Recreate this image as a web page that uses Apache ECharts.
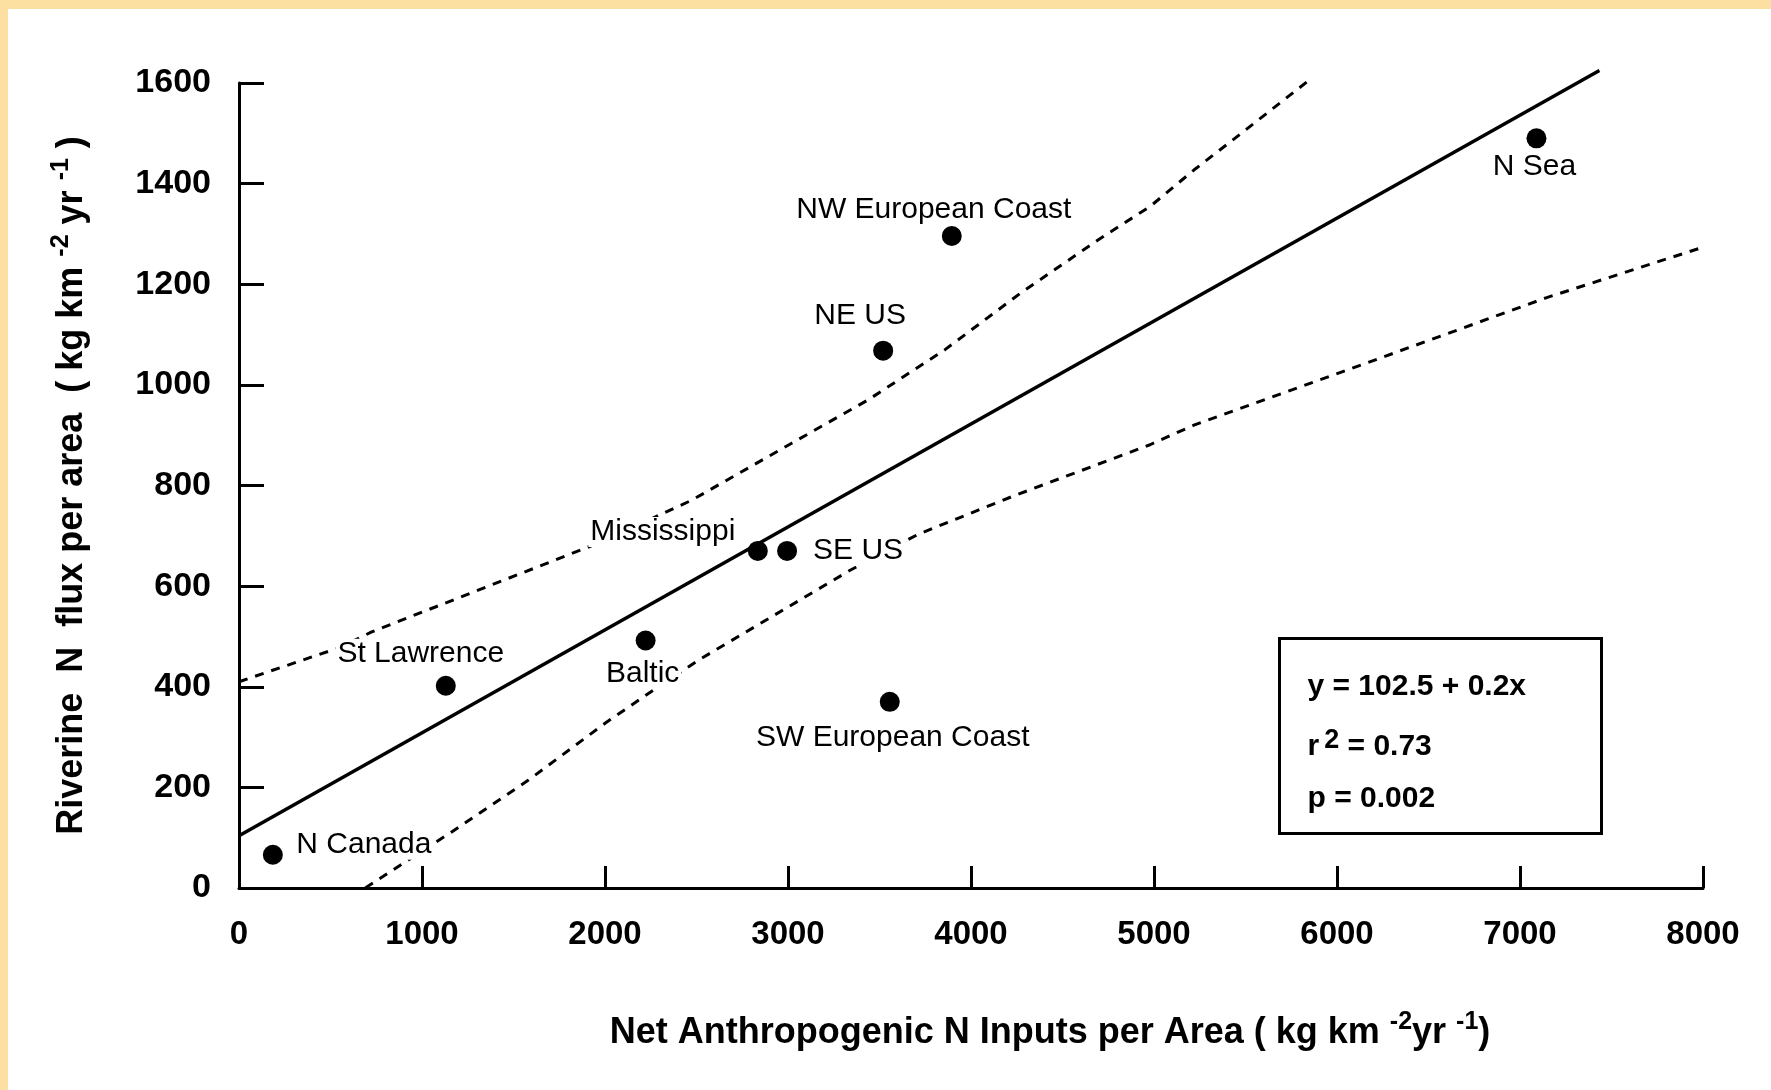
<!DOCTYPE html>
<html>
<head>
<meta charset="utf-8">
<script src="https://cdn.jsdelivr.net/npm/echarts@6/dist/echarts.min.js"></script>
<style>
  html, body { margin: 0; padding: 0; background: #ffffff; }
  #chart { position: absolute; left: 0; top: 0; width: 1771px; height: 1090px; }
  .frameTop { position: absolute; left: 0; top: 0; width: 1771px; height: 9px; background: #fbe0a2; }
  .frameLeft { position: absolute; left: 0; top: 0; width: 8px; height: 1090px; background: #fbe0a2; }
</style>
</head>
<body>
<div id="chart"></div>
<div class="frameTop"></div>
<div class="frameLeft"></div>
<script>
// ---- data ----
const regions = ['N Canada', 'St Lawrence', 'Baltic', 'Mississippi', 'SE US', 'NE US', 'NW European Coast', 'SW European Coast', 'N Sea'];
const nInputs = [185, 1130, 2222, 2835, 2995, 3520, 3895, 3556, 7090];
const nFlux   = [66, 402, 492, 670, 670, 1068, 1296, 370, 1490];

const fitX = [0, 7434];
const fitY = [104, 1625];

const upperX = [0, 550, 725, 1974, 2475, 3020, 3437, 3858, 4273, 4694, 4980, 5218, 5410, 5863];
const upperY = [410, 478, 509, 687, 771, 884, 970, 1070, 1183, 1288, 1355, 1427, 1481, 1610];

const lowerX = [690, 1164, 1580, 2006, 2235, 2516, 3337, 3711, 4231, 4978, 5218, 6060, 7142, 7986];
const lowerY = [0, 112, 214, 329, 386, 454, 631, 703, 779, 881, 920, 1030, 1173, 1272];

const xTicks = [0, 1000, 2000, 3000, 4000, 5000, 6000, 7000, 8000];
const yTicks = [0, 200, 400, 600, 800, 1000, 1200, 1400, 1600];

const statLines = ['y = 102.5 + 0.2x', '0.73', 'p = 0.002'];

// ---- label placement (layout only) ----
const labelOffsets = [[91, -10], [-25, -32], [-3, 33], [-95, -19], [71, 0], [-23, -35], [-18, -26], [3, 36], [-2, 28]];

const FONT = '"Liberation Sans", Arial, Helvetica, sans-serif';

const chart = echarts.init(document.getElementById('chart'), null, { renderer: 'canvas' });

const pair = (xs, ys) => xs.map((x, i) => [x, ys[i]]);

const option = {
  backgroundColor: '#ffffff',
  animation: false,
  grid: { left: 239, right: 68, top: 83, bottom: 202, containLabel: false },
  xAxis: {
    type: 'value',
    min: xTicks[0], max: xTicks[xTicks.length - 1], interval: 1000,
    axisLine: { show: true, onZero: false, lineStyle: { color: '#000', width: 3 } },
    axisTick: { show: true, inside: true, length: 22, lineStyle: { color: '#000', width: 3 } },
    splitLine: { show: false },
    axisLabel: { color: '#000', fontSize: 33, fontWeight: 'bold', fontFamily: FONT, margin: 30, formatter: v => String(v) },
    name: '{t|Net Anthropogenic N Inputs per Area ( kg km }{s|-2}{t|yr }{s|-1}{t|)}',
    nameLocation: 'middle',
    nameGap: 122,
    nameTextStyle: {
      padding: [0, 0, 0, 158],
      rich: {
        t: { fontSize: 36, fontWeight: 'bold', fontFamily: FONT, color: '#000', lineHeight: 46 },
        s: { fontSize: 25, fontWeight: 'bold', fontFamily: FONT, color: '#000', verticalAlign: 'top', lineHeight: 25 }
      }
    }
  },
  yAxis: {
    type: 'value',
    min: yTicks[0], max: yTicks[yTicks.length - 1], interval: 200,
    axisLine: { show: true, onZero: false, lineStyle: { color: '#000', width: 3 } },
    axisTick: { show: true, inside: true, length: 25, lineStyle: { color: '#000', width: 3 } },
    splitLine: { show: false },
    axisLabel: { color: '#000', fontSize: 34, fontWeight: 'bold', fontFamily: FONT, margin: 28, padding: [0, 0, 10, 0], formatter: v => String(v) },
    name: '{t|Riverine  N  flux per area  ( kg km }{s|-2}{t| yr }{s|-1}{t| )}',
    nameLocation: 'middle',
    nameGap: 144,
    nameTextStyle: {
      rich: {
        t: { fontSize: 36, fontWeight: 'bold', fontFamily: FONT, color: '#000', lineHeight: 46 },
        s: { fontSize: 25, fontWeight: 'bold', fontFamily: FONT, color: '#000', verticalAlign: 'top', lineHeight: 25 }
      }
    }
  },
  series: [
    {
      type: 'line', name: 'fit', data: pair(fitX, fitY), showSymbol: false, clip: false,
      lineStyle: { color: '#000', width: 3.5, opacity: 1 }, z: 3
    },
    {
      type: 'line', name: 'upper', data: pair(upperX, upperY), showSymbol: false, clip: false,
      smooth: false,
      lineStyle: { color: '#000', width: 3, type: [9, 8], opacity: 1 }, z: 2
    },
    {
      type: 'line', name: 'lower', data: pair(lowerX, lowerY), showSymbol: false, clip: false,
      smooth: false,
      lineStyle: { color: '#000', width: 3, type: [9, 8], opacity: 1 }, z: 2
    },
    {
      type: 'scatter', name: 'regions', z: 5,
      symbol: 'circle', symbolSize: 20,
      itemStyle: { color: '#000', opacity: 1 },
      data: regions.map((n, i) => ({
        name: n,
        value: [nInputs[i], nFlux[i]],
        label: { offset: labelOffsets[i] }
      })),
      label: {
        show: true, position: 'inside', formatter: '{b}',
        color: '#000', opacity: 1, fontSize: 30, fontFamily: FONT,
        backgroundColor: '#fff', padding: [0, 2]
      }
    }
  ],
  graphic: [
    {
      type: 'group', left: 1278, top: 637,
      children: [
        { type: 'rect', shape: { x: 0, y: 0, width: 322, height: 195 }, style: { fill: '#fff', stroke: '#000', lineWidth: 3 } },
        { type: 'text', x: 28, y: 48, style: { text: statLines[0], fill: '#000', font: 'bold 30px ' + FONT, textVerticalAlign: 'middle' } },
        { type: 'text', x: 28, y: 108, style: {
            text: '{r|r}{s|2}{t| = ' + statLines[1] + '}',
            textVerticalAlign: 'middle',
            rich: {
              r: { fontSize: 30, fontWeight: 'bold', fontFamily: FONT, fill: '#000', lineHeight: 38 },
              s: { fontSize: 27, fontWeight: 'bold', fontFamily: FONT, fill: '#000', verticalAlign: 'top', lineHeight: 22, padding: [0, 0, 0, 5] },
              t: { fontSize: 30, fontWeight: 'bold', fontFamily: FONT, fill: '#000', lineHeight: 38 }
            }
          } },
        { type: 'text', x: 28, y: 160, style: { text: statLines[2], fill: '#000', font: 'bold 30px ' + FONT, textVerticalAlign: 'middle' } }
      ]
    }
  ]
};

chart.setOption(option);
</script>
</body>
</html>
